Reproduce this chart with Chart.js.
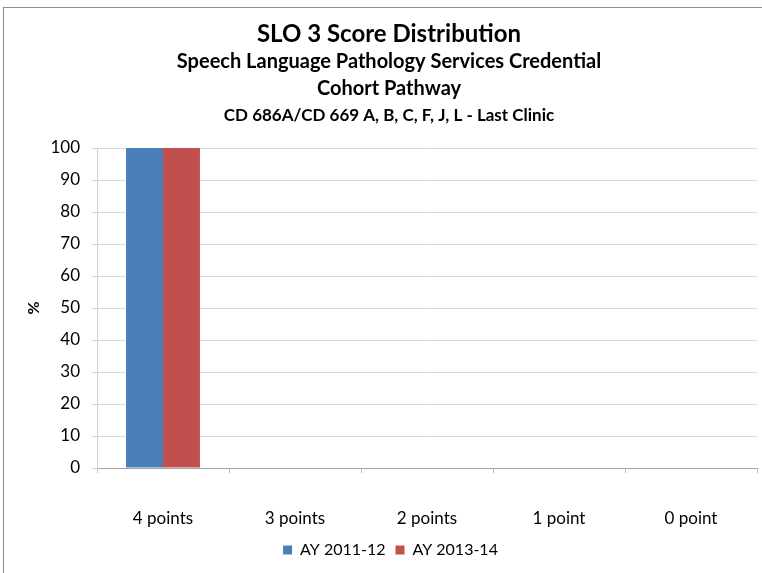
<!DOCTYPE html>
<html>
<head>
<meta charset="utf-8">
<script src="https://cdn.jsdelivr.net/npm/chart.js@4.4.1/dist/chart.umd.min.js"></script>
<style>
  html, body { margin: 0; padding: 0; background: #fff; overflow: hidden; }
  #wrap { position: relative; width: 762px; height: 573px; }
  #frame { position: absolute; left: 3px; top: 7px; width: 790px; height: 600px; border: 1px solid #8c8c8c; box-sizing: border-box; }
  canvas { position: absolute; left: 0; top: 0; }
</style>
</head>
<body>
<div id="wrap">
  <div id="frame"></div>
  <canvas id="chart" width="762" height="573"></canvas>
</div>
<script>
document.addEventListener("DOMContentLoaded", () => {
    const $ = (id) => document.getElementById(id);

    // ---------- Data ----------
    const categories = ["4 points", "3 points", "2 points", "1 point", "0 point"];
    const ay2011 = [100, 0, 0, 0, 0];
    const ay2013 = [100, 0, 0, 0, 0];
    const seriesNames = ["AY 2011-12", "AY 2013-14"];
    const yTicks = { min: 0, max: 100, step: 10 };
    const headerLines = [
        "SLO 3 Score Distribution",
        "Speech Language Pathology Services Credential",
        "Cohort Pathway",
        "CD 686A/CD 669 A, B, C, F, J, L - Last Clinic"
    ];

    const FONT = "Lato, 'Open Sans', sans-serif";

    // ---------- Header (4 centred title lines) ----------
    const headerPlugin = {
        id: 'header',
        afterDraw(chart) {
            const ctx = chart.ctx;
            const styles = [
                { size: 24, y: 34 },
                { size: 20, y: 62 },
                { size: 20, y: 89 },
                { size: 17, y: 116 }
            ];
            ctx.save();
            ctx.fillStyle = '#000';
            ctx.textAlign = 'center';
            ctx.textBaseline = 'middle';
            headerLines.forEach((line, i) => {
                ctx.font = `bold ${styles[i].size}px ${FONT}`;
                ctx.fillText(line, 389, styles[i].y);
            });
            ctx.restore();
        }
    };

    new Chart($('chart'), {
        type: 'bar',
        data: {
            labels: categories,
            datasets: [
                { label: seriesNames[0], data: ay2011, backgroundColor: '#4a7ebb', borderWidth: 0 },
                { label: seriesNames[1], data: ay2013, backgroundColor: '#c0504d', borderWidth: 0 }
            ]
        },
        options: {
            responsive: false,
            animation: false,
            layout: { padding: { top: 148, left: 24, right: 5, bottom: 5 } },
            datasets: { bar: { categoryPercentage: 0.56, barPercentage: 1 } },
            plugins: {
                legend: {
                    position: 'bottom',
                    labels: {
                        boxWidth: 9, boxHeight: 9, padding: 10,
                        color: '#000',
                        font: { family: FONT, size: 16 }
                    }
                },
                tooltip: { enabled: false }
            },
            scales: {
                x: {
                    grid: { drawOnChartArea: false, drawTicks: true, tickLength: 5, color: '#bfbfbf' },
                    border: { color: '#a6a6a6' },
                    ticks: { color: '#000', padding: 35, font: { family: FONT, size: 17 } },
                    afterFit: (s) => { s.height = 64; }
                },
                y: {
                    min: yTicks.min, max: yTicks.max,
                    ticks: { stepSize: yTicks.step, color: '#000', padding: 12, font: { family: FONT, size: 17 } },
                    grid: { color: '#d9d9d9', tickLength: 5 },
                    border: { color: '#d0d0d0' },
                    title: { display: true, text: '%', color: '#000', font: { family: FONT, size: 16, weight: 'bold' }, padding: { top: 0, bottom: 0 } },
                    afterFit: (s) => { s.width = 73; }
                }
            }
        },
        plugins: [headerPlugin]
    });
});
</script>
</body>
</html>
